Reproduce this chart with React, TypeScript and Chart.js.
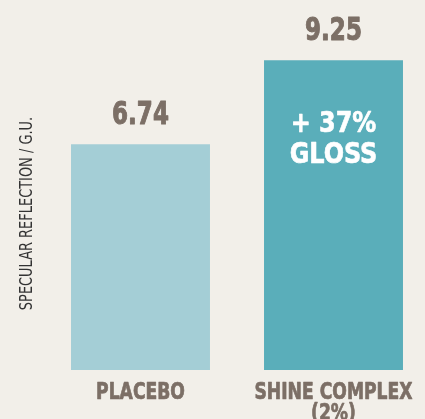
import React, { useEffect, useRef } from "react";
import { Chart, registerables } from "chart.js";

Chart.register(...registerables);

const categories: string[][] = [["PLACEBO"], ["SHINE COMPLEX", "(2%)"]];
const values = [6.74, 9.25];
const valueLabels = ["6.74", "9.25"];
const calloutLines = ["+ 37%", "GLOSS"];
const yTitle = "SPECULAR REFLECTION / G.U.";
const barColors = ["#a4ced6", "#5aaeba"];
const yMax = 10;

const BG = "#f2efe9";
const TEXT = "#7c6f66";
const COND = "'DejaVu Sans Condensed', 'DejaVu Sans', sans-serif";

function drawSquished(
  ctx: CanvasRenderingContext2D,
  text: string,
  x: number,
  y: number,
  sx: number,
  stroke = 0
) {
  ctx.save();
  ctx.translate(x, y);
  ctx.scale(sx, 1);
  ctx.fillText(text, 0, 0);
  if (stroke > 0) {
    ctx.lineWidth = stroke;
    ctx.lineJoin = "round";
    ctx.strokeStyle = ctx.fillStyle as string;
    ctx.strokeText(text, 0, 0);
  }
  ctx.restore();
}

const labelPlugin = {
  id: "barLabels",
  afterDatasetsDraw(chart: any) {
    const ctx = chart.ctx as CanvasRenderingContext2D;
    const meta = chart.getDatasetMeta(0);
    const area = chart.chartArea;
    const xs = chart.scales.x;
    ctx.save();
    ctx.textAlign = "center";
    ctx.textBaseline = "alphabetic";

    // value labels
    ctx.fillStyle = TEXT;
    ctx.font = `bold 32px ${COND}`;
    meta.data.forEach((bar: any, i: number) => {
      drawSquished(ctx, valueLabels[i], bar.x, bar.y - 20, 0.8, 1);
    });

    // callout inside second bar
    const b = meta.data[1];
    ctx.fillStyle = "#ffffff";
    ctx.font = `bold 28px ${COND}`;
    drawSquished(ctx, calloutLines[0], b.x, b.y + 72, 0.95, 0.6);
    drawSquished(ctx, calloutLines[1], b.x, b.y + 103, 0.95, 0.6);

    // category labels
    ctx.fillStyle = TEXT;
    ctx.font = `bold 23px ${COND}`;
    categories.forEach((lines, i) => {
      const px = xs.getPixelForValue(i);
      lines.forEach((line, j) => {
        drawSquished(ctx, line, px, area.bottom + 28.5 + j * 21, 0.83, 0.7);
      });
    });

    // y title
    ctx.translate(27, (area.top + area.bottom) / 2 + 11);
    ctx.rotate(-Math.PI / 2);
    ctx.font = `18px ${COND}`;
    ctx.fillStyle = "#333333";
    ctx.textBaseline = "middle";
    drawSquished(ctx, yTitle, 0, 0, 0.8);
    ctx.restore();
  },
};

export default function App() {
  const ref = useRef<HTMLCanvasElement>(null);
  useEffect(() => {
    if (!ref.current) return;
    const chart = new Chart(ref.current, {
      type: "bar",
      data: {
        labels: categories.map((l) => l.join(" ")),
        datasets: [
          {
            data: values,
            backgroundColor: barColors,
            borderWidth: 0,
            barPercentage: 0.72,
            categoryPercentage: 1,
          },
        ],
      },
      options: {
        responsive: false,
        animation: false,
        layout: { padding: { left: 44, right: 10, top: 35, bottom: 0 } },
        plugins: { legend: { display: false }, tooltip: { enabled: false } },
        scales: {
          x: {
            grid: { display: false, drawTicks: false },
            border: { display: false },
            ticks: { display: false },
            afterFit: (scale: any) => {
              scale.height = 49;
            },
          },
          y: {
            display: false,
            min: 0,
            max: yMax,
          },
        },
      },
      plugins: [labelPlugin],
    });
    return () => chart.destroy();
  }, []);
  return (
    <div
      style={{
        position: "fixed",
        left: 0,
        top: 0,
        width: 425,
        height: 419,
        overflow: "hidden",
        background: BG,
      }}
    >
      <canvas ref={ref} width={440} height={419} style={{ display: "block" }} />
    </div>
  );
}
